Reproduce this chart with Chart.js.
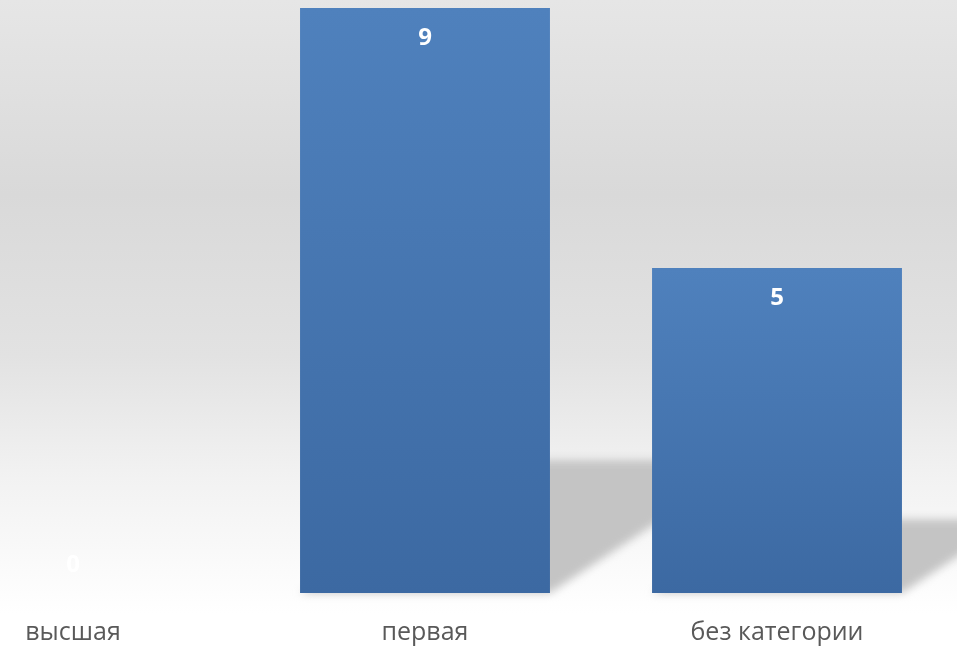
<!DOCTYPE html>
<html>
<head>
<meta charset="utf-8">
<script src="https://cdn.jsdelivr.net/npm/chart.js@4.4.1/dist/chart.umd.min.js"></script>
<style>
    html, body {
        margin: 0;
        padding: 0;
        width: 957px;
        height: 646px;
        overflow: hidden;
        background: linear-gradient(to bottom, #e6e6e6 0%, #d9d9d9 30%, #e2e2e2 55%, #f2f2f2 74%, #ffffff 95%);
    }
    #wrap {
        position: absolute;
        left: -103px;
        top: 0;
        width: 1060px;
        height: 646px;
    }
</style>
</head>
<body>
<div id="wrap"><canvas id="chart"></canvas></div>
<script>
const categories = ['высшая', 'первая', 'без категории'];
const counts = [0, 9, 5];
const yMax = 9;

const fontFamily = '"Open Sans", "Noto Sans", sans-serif';

// Excel-style perspective shadow behind each bar
const shadowPlugin = {
    id: 'barShadow',
    beforeDatasetsDraw(chart) {
        const ctx = chart.ctx;
        const meta = chart.getDatasetMeta(0);
        ctx.save();
        ctx.filter = 'blur(4px)';
        ctx.fillStyle = '#c4c4c4';
        meta.data.forEach(bar => {
            const h = bar.base - bar.y;
            if (h <= 0) return;
            const half = bar.width / 2;
            const x0 = bar.x - half;
            const x1 = bar.x + half;
            const dy = h * 0.227;
            const dx = dy * 1.52;
            ctx.beginPath();
            ctx.moveTo(x0, bar.base);
            ctx.lineTo(x1, bar.base);
            ctx.lineTo(x1 + dx, bar.base - dy);
            ctx.lineTo(x0 + dx, bar.base - dy);
            ctx.closePath();
            ctx.fill();
        });
        ctx.restore();
    }
};

// white bold value labels, inside the top of the bar
const labelPlugin = {
    id: 'valueLabels',
    afterDatasetsDraw(chart) {
        const ctx = chart.ctx;
        const meta = chart.getDatasetMeta(0);
        ctx.save();
        ctx.font = 'bold 24px ' + fontFamily;
        ctx.fillStyle = '#ffffff';
        ctx.textAlign = 'center';
        ctx.textBaseline = 'middle';
        meta.data.forEach((bar, i) => {
            const h = bar.base - bar.y;
            const y = h > 0 ? bar.y + 30 : bar.base - 28;
            ctx.fillText(String(counts[i]), bar.x, y);
        });
        ctx.restore();
    }
};

function barGradient(context) {
    const chart = context.chart;
    const y = chart.scales.y;
    if (!chart.chartArea || !y) return '#4f81bd';
    const top = y.getPixelForValue(context.raw || 0);
    const base = y.getPixelForValue(0);
    if (!isFinite(top) || !isFinite(base) || base - top < 1) return '#4f81bd';
    const g = chart.ctx.createLinearGradient(0, top, 0, base);
    g.addColorStop(0, '#4f81bd');
    g.addColorStop(1, '#3c69a2');
    return g;
}

new Chart(document.getElementById('chart'), {
    type: 'bar',
    data: {
        labels: categories,
        datasets: [{
            data: counts,
            backgroundColor: barGradient,
            borderWidth: 0,
            barPercentage: 0.71,
            categoryPercentage: 1
        }]
    },
    options: {
        responsive: true,
        maintainAspectRatio: false,
        animation: false,
        layout: { padding: { top: 8, left: 0, right: 4, bottom: 0 } },
        plugins: {
            legend: { display: false },
            tooltip: { enabled: false }
        },
        scales: {
            x: {
                grid: { display: false },
                border: { display: false },
                ticks: {
                    color: '#595959',
                    font: { family: fontFamily, size: 25 },
                    padding: 17,
                    maxRotation: 0,
                    autoSkip: false
                },
                afterFit(scale) { scale.height = 53; }
            },
            y: {
                display: false,
                min: 0,
                max: yMax
            }
        }
    },
    plugins: [shadowPlugin, labelPlugin]
});
</script>
</body>
</html>
